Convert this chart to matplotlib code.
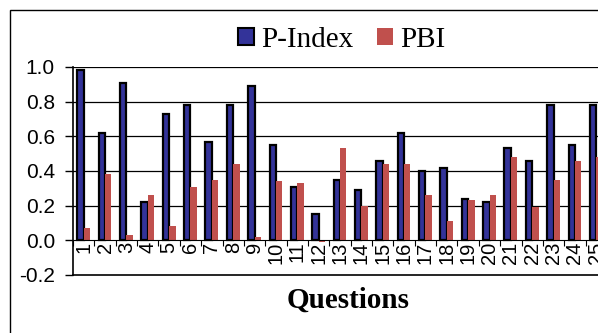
import matplotlib
matplotlib.use("Agg")
import matplotlib.pyplot as plt
from matplotlib.patches import Patch, Rectangle
import numpy as np

questions = [str(i) for i in range(1, 26)]
p_index = [0.98, 0.62, 0.91, 0.22, 0.73, 0.78, 0.57, 0.78, 0.89, 0.55,
           0.31, 0.15, 0.35, 0.29, 0.46, 0.62, 0.40, 0.42, 0.24, 0.22,
           0.53, 0.46, 0.78, 0.55, 0.78]
pbi = [0.07, 0.38, 0.03, 0.26, 0.08, 0.31, 0.35, 0.44, 0.02, 0.34,
       0.33, -0.01, 0.53, 0.20, 0.44, 0.44, 0.26, 0.11, 0.23, 0.26,
       0.48, 0.19, 0.35, 0.46, 0.48]
y_ticks = [-0.2, 0.0, 0.2, 0.4, 0.6, 0.8, 1.0]

BLUE = "#333399"
RED = "#C0504D"
W, H = 598, 333

fig = plt.figure(figsize=(W / 100, H / 100), dpi=100)
fig.patch.set_facecolor("white")

# outer chart border (runs off the right and bottom edge)
fig.add_artist(Rectangle((9.5 / W, -0.2), 1.5, (H - 9.5) / H + 0.2,
                         transform=fig.transFigure, fill=False,
                         edgecolor="black", lw=1.0))

ax = fig.add_axes([73 / W, (H - 275) / H, (607 - 73) / W, (275 - 67) / H])

x = np.arange(1, len(questions) + 1)
bw = 0.3
ax.bar(x - bw / 2, p_index, bw, color=BLUE, edgecolor="black", lw=1.6,
       zorder=3)
ax.bar(x + bw / 2, pbi, bw, color=RED, lw=0, zorder=3)

ax.set_xlim(0.5, len(questions) + 0.5)
ax.set_ylim(-0.2, 1.0)

for yv in [0.2, 0.4, 0.6, 0.8, 1.0]:
    ax.axhline(yv, color="black", lw=0.9, zorder=1)
ax.axhline(-0.2, color="black", lw=1.2, zorder=1, clip_on=False)

for s in ["top", "right"]:
    ax.spines[s].set_visible(False)
ax.spines["bottom"].set_position(("data", 0))
ax.spines["bottom"].set_zorder(4)
ax.spines["left"].set_linewidth(1.2)

ax.set_yticks(y_ticks)
ax.set_yticklabels([f"{v:.1f}" for v in y_ticks],
                   fontfamily="Liberation Sans", fontsize=15)
ax.tick_params(axis="y", length=6, width=1, direction="out", pad=7)

ax.set_xticks(np.arange(0.5, len(questions) + 1, 1.0))
ax.set_xticklabels([])
ax.tick_params(axis="x", which="major", length=4.5, width=0.8,
               direction="out")
ax.set_xticks(x, minor=True)
ax.set_xticklabels(questions, minor=True, rotation=90,
                   fontfamily="Liberation Sans", fontsize=14.5)
ax.tick_params(axis="x", which="minor", length=0, pad=1)

fig.text(348 / W, (H - 308) / H, "Questions", ha="center", va="baseline",
         fontfamily="Liberation Serif", fontweight="bold", fontsize=21)

handles = [Patch(facecolor=BLUE, edgecolor="black", lw=1.5, label="P-Index"),
           Patch(facecolor=RED, lw=0, label="PBI")]
fig.legend(handles=handles, loc="center", bbox_to_anchor=(342 / W, (H - 40) / H),
           ncol=2, frameon=False, handlelength=0.55, handleheight=0.55,
           handletextpad=0.25, columnspacing=0.8,
           prop={"family": "Liberation Serif", "size": 21})

fig.savefig("out.png", dpi=100)
